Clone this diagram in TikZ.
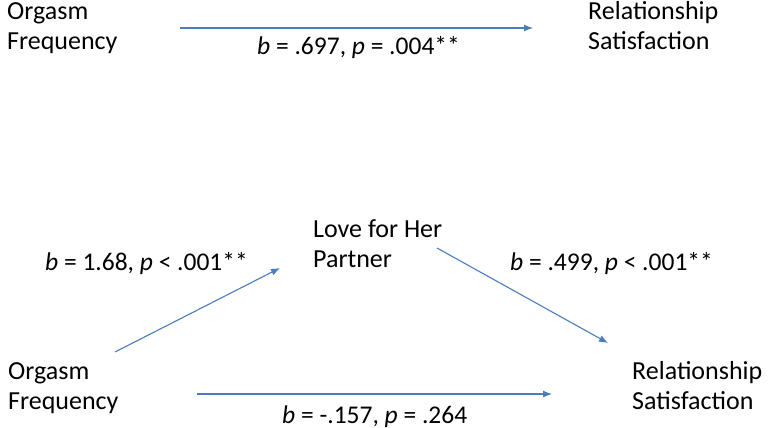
\documentclass[tikz,border=0pt]{standalone}
\usepackage{fontspec}
\setmainfont{Carlito}
\usetikzlibrary{arrows,arrows.meta}
\definecolor{pathblue}{HTML}{4A7EBB}
\tikzset{>={Latex[length=9pt,width=7pt]}}
\tikzstyle{var}=[inner sep=0pt,align=left,anchor=base west,font=\fontsize{26}{30}\selectfont]
\tikzstyle{coef}=[inner sep=0pt,anchor=base west,font=\fontsize{25.5}{30}\selectfont]
\tikzstyle{path}=[->,draw=pathblue,fill=pathblue,line width=1.1pt]

\begin{document}
\begin{tikzpicture}[x=1pt,y=-1pt]
\useasboundingbox (0,0) rectangle (771,428);

% total effect
\node[var] (of1) at (7, 50) {Orgasm\\Frequency};
\node[var] (rs1) at (588, 50) {Relationship\\Satisfaction};
\coordinate (c1s) at (180, 28);
\coordinate (c1e) at (533, 28);
\draw[path] (c1s) -- (c1e);
\node[coef] (c1) at (257, 55) {\textit{b} = .697, \textit{p} = .004**};

% mediation
\node[var] (lp) at (313, 267) {Love for Her\\Partner};
\node[var] (of2) at (8, 409) {Orgasm\\Frequency};
\node[var] (rs2) at (632, 409) {Relationship\\Satisfaction};

\coordinate (as) at (115, 352);
\coordinate (ae) at (280, 268);
\coordinate (bs) at (437, 248);
\coordinate (be) at (608, 343);
\coordinate (cs) at (197, 394);
\coordinate (ce) at (552, 394);

\draw[path] (as) -- (ae);
\draw[path] (bs) -- (be);
\draw[path] (cs) -- (ce);

\node[coef] (ca) at (45, 270) {\textit{b} = 1.68, \textit{p} < .001**};
\node[coef] (cb) at (510, 270) {\textit{b} = .499, \textit{p} < .001**};
\node[coef] (cc) at (282, 423) {\textit{b} = -.157, \textit{p} = .264};

\end{tikzpicture}
\end{document}
